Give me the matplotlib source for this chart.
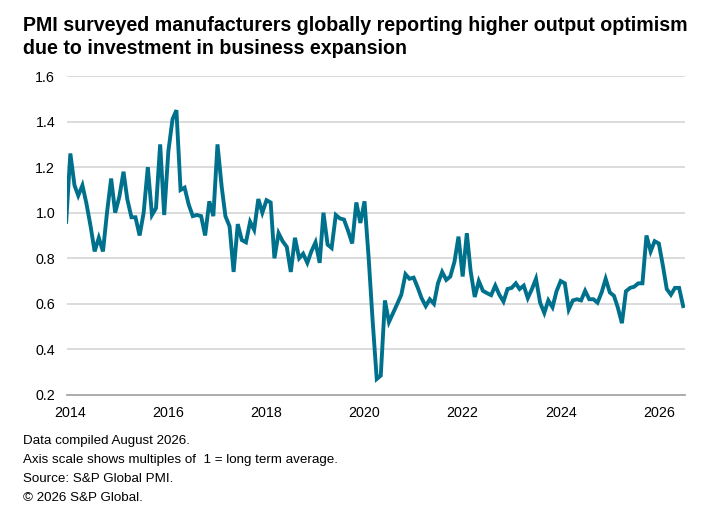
import matplotlib
matplotlib.use("Agg")
from matplotlib import pyplot as plt
import pandas as pd

plt.rcParams['font.family'] = ['Liberation Sans', 'DejaVu Sans']

# monthly index, Dec 2013 .. Jul 2026 (1 = long term average)
start_month = '2013-12-01'
values_2013_2016 = [
    0.96,                                                             # Dec 2013
    1.26, 1.12, 1.075, 1.12, 1.04, 0.94, 0.83, 0.89, 0.83, 1.0, 1.15, 1.0,   # 2014
    1.07, 1.18, 1.06, 0.98, 0.98, 0.90, 1.0, 1.20, 0.99, 1.02, 1.30, 0.99,   # 2015
    1.27, 1.41, 1.45, 1.10, 1.11, 1.035, 0.985, 0.99, 0.985, 0.90, 1.05, 0.985,  # 2016
]
values_2017_2019 = [
    1.30, 1.115, 0.985, 0.94, 0.74, 0.95, 0.88, 0.87, 0.96, 0.925, 1.06, 1.0,   # 2017
    1.055, 1.045, 0.80, 0.91, 0.875, 0.85, 0.74, 0.89, 0.80, 0.82, 0.78, 0.83,  # 2018
    0.87, 0.78, 1.0, 0.86, 0.845, 0.99, 0.975, 0.97, 0.92, 0.865, 1.045, 0.955, # 2019
]
values_2020_2022 = [
    1.05, 0.80, 0.53, 0.27, 0.285, 0.615, 0.52, 0.56, 0.60, 0.64, 0.73, 0.71,   # 2020
    0.715, 0.67, 0.625, 0.59, 0.62, 0.60, 0.69, 0.74, 0.705, 0.72, 0.785, 0.895, # 2021
    0.72, 0.91, 0.745, 0.63, 0.70, 0.657, 0.647, 0.638, 0.68, 0.64, 0.61, 0.665, # 2022
]
values_2023_2026 = [
    0.67, 0.69, 0.665, 0.68, 0.625, 0.665, 0.71, 0.605, 0.56, 0.615, 0.585, 0.655, # 2023
    0.70, 0.69, 0.575, 0.615, 0.62, 0.615, 0.657, 0.62, 0.62, 0.605, 0.65, 0.71,  # 2024
    0.65, 0.635, 0.585, 0.515, 0.655, 0.67, 0.675, 0.69, 0.69, 0.90, 0.83, 0.875, # 2025
    0.865, 0.765, 0.665, 0.64, 0.67, 0.67, 0.59,                                   # 2026
]
values = values_2013_2016 + values_2017_2019 + values_2020_2022 + values_2023_2026
dates = pd.date_range(start_month, periods=len(values), freq='MS')

year_ticks = [2014, 2016, 2018, 2020, 2022, 2024, 2026]
y_ticks = [0.2, 0.4, 0.6, 0.8, 1.0, 1.2, 1.4, 1.6]

title = ("PMI surveyed manufacturers globally reporting higher output optimism\n"
         "due to investment in business expansion")
footer = ("Data compiled August 2026.\n"
          "Axis scale shows multiples of  1 = long term average.\n"
          "Source: S&P Global PMI.\n"
          "\u00a9 2026 S&P Global.")

fig = plt.figure(figsize=(7.21, 5.28), dpi=100, facecolor='white')
ax = fig.add_axes([0.0929, 0.252, 0.857, 0.604])

# horizontal gridlines
for yv in y_ticks[1:]:
    ax.axhline(yv, color='#d9d9d9', lw=1.3, zorder=1)

ax.plot(dates, values, color='#00718c', lw=2.8, solid_joinstyle='miter', zorder=3)

ax.set_ylim(0.2, 1.6)
ax.set_xlim(pd.Timestamp('2013-12-07'), pd.Timestamp('2026-07-14'))
ax.set_yticks(y_ticks)
ax.set_yticklabels([f'{v:.1f}' for v in y_ticks])
ax.set_xticks([pd.Timestamp(f'{y}-01-01') for y in year_ticks])
ax.set_xticklabels([str(y) for y in year_ticks])
ax.tick_params(axis='both', length=0, labelsize=10.3, colors='black')
ax.tick_params(axis='y', pad=8.5)
ax.tick_params(axis='x', pad=8)

for side in ['top', 'right', 'left']:
    ax.spines[side].set_visible(False)
ax.spines['bottom'].set_color('#a6a6a6')
ax.spines['bottom'].set_linewidth(1.3)

fig.text(23 / 721, 1 - 16 / 528, title, fontsize=14.1, fontweight='bold',
         va='top', ha='left', linespacing=1.3)
fig.text(23 / 721, 1 - 435 / 528, footer, fontsize=9.6, va='top', ha='left',
         linespacing=1.78)

fig.savefig('out.png', dpi=100, facecolor='white')
